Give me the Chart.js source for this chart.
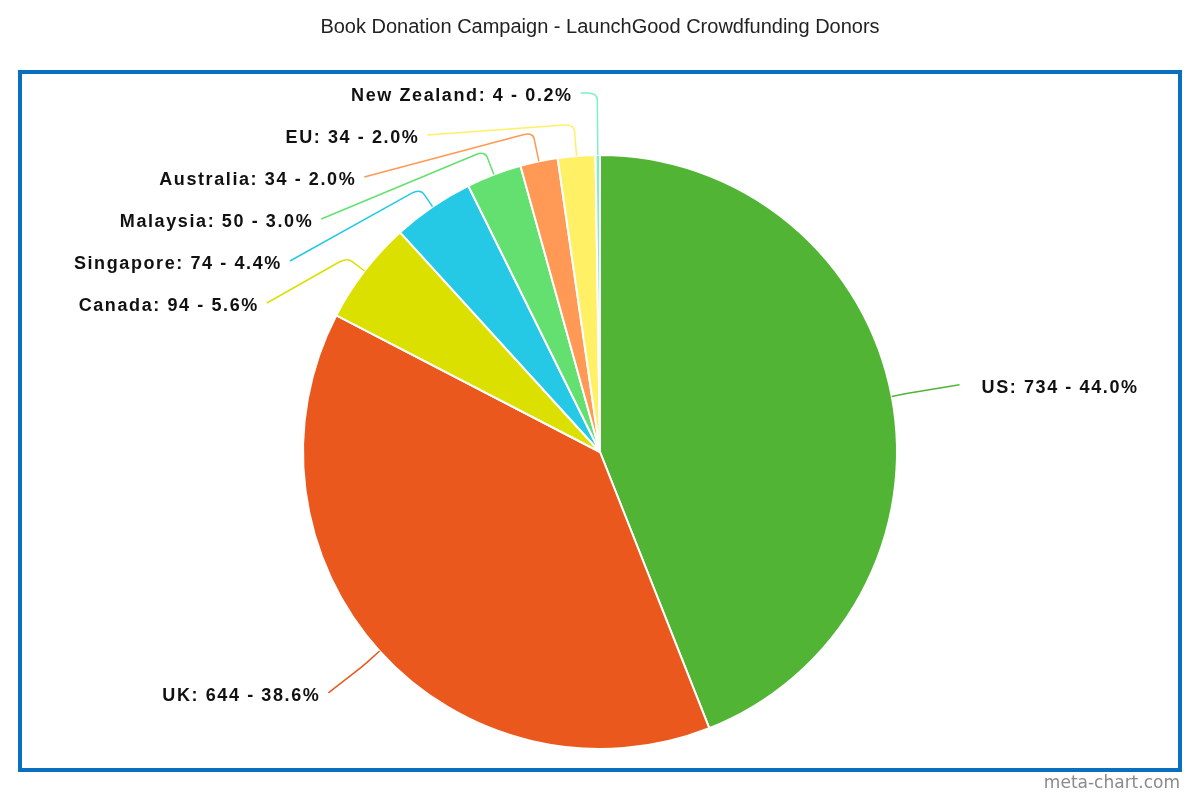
<!DOCTYPE html>
<html>
<head>
<meta charset="utf-8">
<script src="https://cdn.jsdelivr.net/npm/chart.js@4.4.1/dist/chart.umd.min.js"></script>
<style>
    html, body { margin: 0; padding: 0; background: #fff; }
    #wrap { width: 1200px; height: 800px; }
</style>
</head>
<body>
<div id="wrap"><canvas id="pieChart" width="1200" height="800"></canvas></div>
<script>
const countries = ['US', 'UK', 'Canada', 'Singapore', 'Malaysia', 'Australia', 'EU', 'New Zealand'];
const donors = [734, 644, 94, 74, 50, 34, 34, 4];
const sliceColors = ['#52b435', '#eb581e', '#dce000', '#26c9e5', '#63e06f', '#ff9955', '#fff066', '#7eefc8'];

// labels with leader lines, stacked so the small slices don't collide
const pieLabels = {
    id: 'pieLabels',
    afterDatasetsDraw(chart, args, opts) {
        const ctx = chart.ctx;
        const meta = chart.getDatasetMeta(0);
        const values = chart.data.datasets[0].data;
        const total = values.reduce((a, b) => a + b, 0);

        const items = meta.data.map((arc, i) => {
            const p = arc.getProps(['x', 'y', 'startAngle', 'endAngle', 'outerRadius'], true);
            const mid = (p.startAngle + p.endAngle) / 2;
            const cos = Math.cos(mid);
            const sin = Math.sin(mid);
            return { i, cx: p.x, cy: p.y, r: p.outerRadius, cos, sin, right: cos >= 0, y: p.y + sin * opts.ry };
        });

        [true, false].forEach(side => {
            const group = items.filter(it => it.right === side).sort((a, b) => a.y - b.y);
            let prev = -Infinity;
            group.forEach(it => {
                it.y = Math.max(it.y, prev + opts.spacing, opts.top);
                prev = it.y;
            });
        });

        ctx.save();
        items.forEach(it => {
            const dy = it.y - it.cy;
            const t = Math.max(1 - (dy / opts.ry) * (dy / opts.ry), 0);
            const dx = opts.rx * Math.sqrt(t);
            const endX = it.right ? it.cx + dx : it.cx - dx;
            const endY = it.y;

            const p0x = it.cx + it.cos * it.r;
            const p0y = it.cy + it.sin * it.r;
            let ext = opts.ext;
            if (-it.sin > 0.9) ext += 10 * (-it.sin - 0.9) / 0.1;
            if (-it.sin > 0.9 && p0y - endY > ext) ext = (p0y - endY) / -it.sin;
            const ex = p0x + it.cos * ext;
            const ey = p0y + it.sin * ext;
            const ax = p0x + it.cos * (ext - 7);
            const ay = p0y + it.sin * (ext - 7);
            const len = Math.hypot(endX - ex, endY - ey) || 1;
            const bx = ex + (endX - ex) / len * 10;
            const by = ey + (endY - ey) / len * 10;

            ctx.beginPath();
            ctx.moveTo(p0x, p0y);
            ctx.lineTo(ax, ay);
            ctx.quadraticCurveTo(ex, ey, bx, by);
            ctx.lineTo(endX, endY);
            ctx.strokeStyle = sliceColors[it.i];
            ctx.lineWidth = 1.5;
            ctx.stroke();

            const v = values[it.i];
            const pct = (v / total * 100).toFixed(1);
            const text = `${chart.data.labels[it.i]}: ${v} - ${pct}%`;
            ctx.font = 'bold 18px "Liberation Sans", Arial, sans-serif';
            ctx.letterSpacing = '1.6px';
            ctx.fillStyle = '#111';
            ctx.textBaseline = 'middle';
            if (it.right) {
                ctx.textAlign = 'left';
                ctx.fillText(text, endX + 22, endY + 3);
            } else {
                ctx.textAlign = 'right';
                ctx.fillText(text, endX - 8, endY + 3);
            }
        });
        ctx.restore();
    }
};

// blue frame and the site credit
const frame = {
    id: 'frame',
    afterDraw(chart) {
        const ctx = chart.ctx;
        ctx.save();
        ctx.strokeStyle = '#0b6fc0';
        ctx.lineWidth = 4;
        ctx.strokeRect(20, 72, 1160, 698);
        ctx.font = '17px "DejaVu Sans", sans-serif';
        ctx.fillStyle = '#8a8a8a';
        ctx.textAlign = 'right';
        ctx.textBaseline = 'middle';
        ctx.fillText('meta-chart.com', 1180, 784);
        ctx.restore();
    }
};

const ctxPie = document.getElementById('pieChart').getContext('2d');
new Chart(ctxPie, {
    type: 'pie',
    data: {
        labels: countries,
        datasets: [{
            data: donors,
            backgroundColor: sliceColors,
            borderColor: '#ffffff',
            borderWidth: 2,
            radius: 297
        }]
    },
    options: {
        responsive: false,
        animation: false,
        layout: { padding: 0 },
        plugins: {
            legend: { display: false },
            tooltip: { enabled: false },
            title: {
                display: true,
                text: 'Book Donation Campaign - LaunchGood Crowdfunding Donors',
                color: '#222',
                font: { family: '"Liberation Sans", Arial, sans-serif', size: 20, weight: 'normal' },
                padding: { top: 15, bottom: 65 }
            },
            pieLabels: { rx: 366, ry: 359.5, spacing: 42, top: 93, ext: 22 }
        }
    },
    plugins: [pieLabels, frame]
});
</script>
</body>
</html>
